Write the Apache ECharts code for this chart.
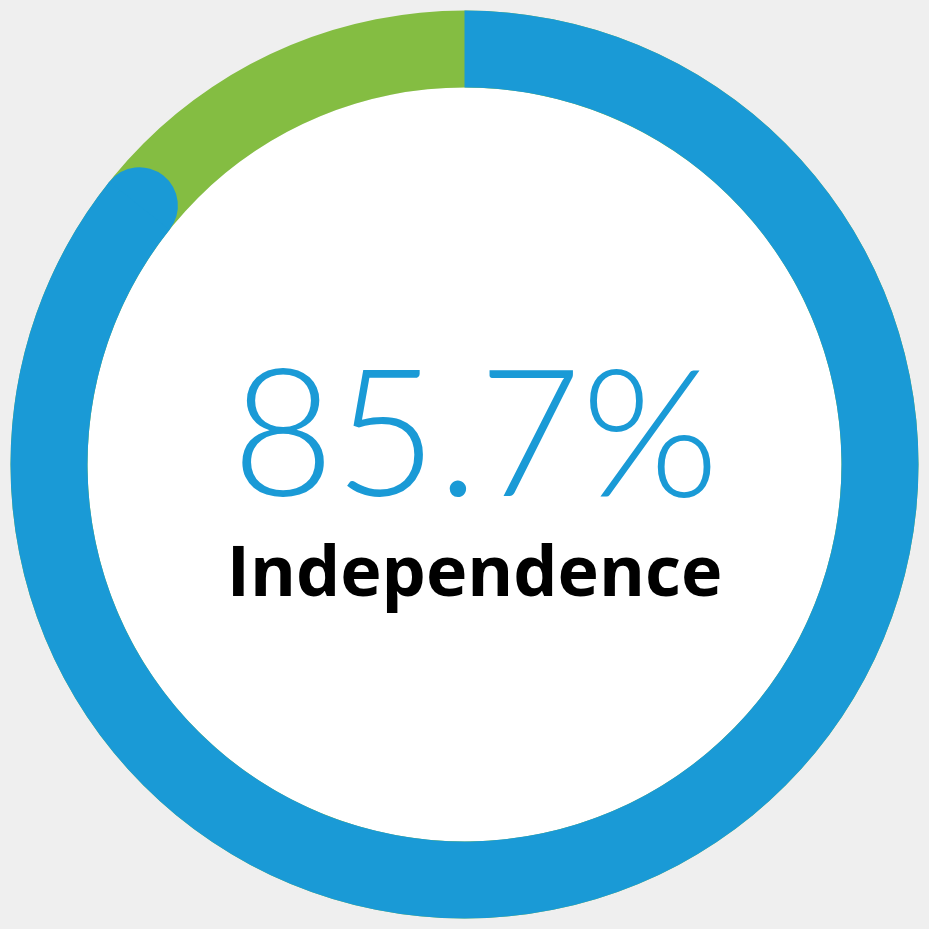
<!DOCTYPE html>
<html><head><meta charset="utf-8">
<script src="https://cdn.jsdelivr.net/npm/echarts@6/dist/echarts.min.js"></script>
<style>html,body{margin:0;padding:0;background:#efefef;}#c{width:929px;height:929px;}</style>
</head><body><div id="c"></div>
<script>
const label = 'Independence';
const value = 85.7;
const maxValue = 100;

const chart = echarts.init(document.getElementById('c'));
const R = 454, W = 77, RI = R - W;
chart.setOption({
  backgroundColor: '#efefef',
  animation: false,
  series: [
    {
      type: 'gauge', center: ['50%', '50%'], radius: RI,
      startAngle: 90, endAngle: -270, min: 0, max: maxValue,
      axisLine: { lineStyle: { width: RI, color: [[1, '#ffffff']] } },
      axisTick: { show: false }, splitLine: { show: false }, axisLabel: { show: false },
      pointer: { show: false }, title: { show: false }, detail: { show: false },
      data: [{ value: 0 }], z: 1
    },
    {
      type: 'gauge', center: ['50%', '50%'], radius: R,
      startAngle: 90, endAngle: -270, min: 0, max: maxValue, clockwise: true,
      axisLine: { lineStyle: { width: W, color: [[1, '#84bd42']] } },
      progress: { show: true, width: W, roundCap: false, itemStyle: { color: '#1a9ad6' } },
      pointer: { show: true, icon: 'circle', length: W, width: W, offsetCenter: [0, -RI], keepAspect: false, itemStyle: { color: '#1a9ad6' } },
      anchor: { show: false },
      axisTick: { show: false }, splitLine: { show: false }, axisLabel: { show: false },
      title: { show: true, offsetCenter: [10, 112], color: '#000000', fontFamily: 'Open Sans', fontWeight: 'bold', fontSize: 70 },
      detail: { show: true, offsetCenter: [11, -26], color: '#1a9ad6', fontFamily: 'Lato', fontWeight: 300, fontSize: 177, formatter: '{value}%' },
      data: [{ value: value, name: label }], z: 2
    }
  ]
});
</script></body></html>
